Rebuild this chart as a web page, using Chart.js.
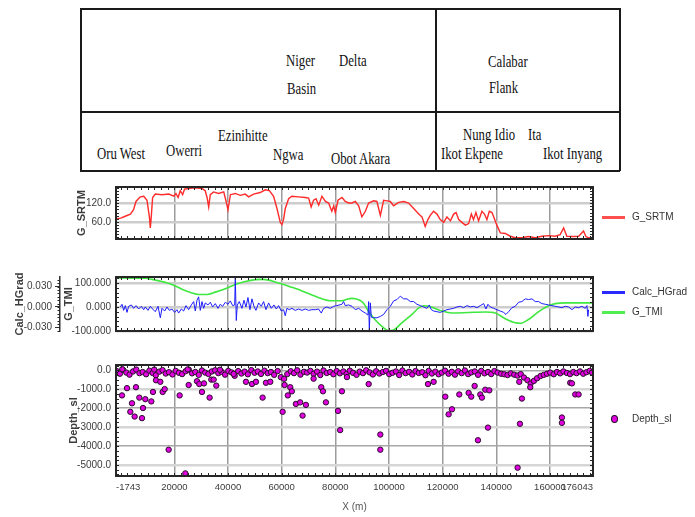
<!DOCTYPE html>
<html>
<head>
<meta charset="utf-8">
<script src="https://cdn.jsdelivr.net/npm/chart.js@4.4.1/dist/chart.umd.min.js"></script>
<style>
  body { margin: 0; background: #fff; width: 695px; height: 517px; position: relative; overflow: hidden; font-family: "Liberation Sans", Arial, sans-serif; }
  canvas { position: absolute; left: 0; }
  .ln { position: absolute; background: #1a1a1a; }
  .place { position: absolute; font: 17px "Liberation Serif", "Times New Roman", serif; line-height: 17px; transform: scaleX(0.75); transform-origin: 0 0; white-space: nowrap; color: #111; }
  .lg { position: absolute; left: 632px; font-size: 10px; line-height: 12px; color: #333; white-space: nowrap; }
  .sw { position: absolute; left: 602px; width: 23px; height: 3px; }
  .mk { position: absolute; left: 611px; width: 5px; height: 6px; border-radius: 50%; background: #e000e0; border: 1px solid #2a102a; }
</style>
</head>
<body>

<!-- location table -->
<div class="ln" style="left:80px; top:8px; width:540px; height:1.5px"></div>
<div class="ln" style="left:80px; top:111px; width:540px; height:1.5px"></div>
<div class="ln" style="left:80px; top:170px; width:540px; height:1.5px"></div>
<div class="ln" style="left:80px; top:8px; width:1.5px; height:163px"></div>
<div class="ln" style="left:619px; top:8px; width:1.5px; height:163px"></div>
<div class="ln" style="left:435px; top:8px; width:1.5px; height:163px"></div>

<div class="place" style="left:286px; top:52px">Niger</div>
<div class="place" style="left:339px; top:52px">Delta</div>
<div class="place" style="left:287px; top:80px">Basin</div>
<div class="place" style="left:488px; top:53px">Calabar</div>
<div class="place" style="left:489px; top:79px">Flank</div>
<div class="place" style="left:97px; top:145px">Oru West</div>
<div class="place" style="left:166px; top:142px">Owerri</div>
<div class="place" style="left:218px; top:127px">Ezinihitte</div>
<div class="place" style="left:273px; top:146px">Ngwa</div>
<div class="place" style="left:331px; top:150px">Obot Akara</div>
<div class="place" style="left:463px; top:126px">Nung Idio</div>
<div class="place" style="left:528px; top:126px">Ita</div>
<div class="place" style="left:441px; top:145px">Ikot Ekpene</div>
<div class="place" style="left:543px; top:145px">Ikot Inyang</div>

<canvas id="c1" width="695" height="74" style="top:176px"></canvas>
<canvas id="c2" width="695" height="76" style="top:266px"></canvas>
<canvas id="c3" width="695" height="163" style="top:354px"></canvas>

<div class="sw" style="top:216px; background:#ff5050"></div>
<div class="lg" style="top:211px">G_SRTM</div>
<div class="sw" style="top:291px; background:#2a2aff"></div>
<div class="lg" style="top:286px">Calc_HGrad</div>
<div class="sw" style="top:311px; background:#50ee50"></div>
<div class="lg" style="top:306px">G_TMI</div>
<div class="mk" style="top:415px"></div>
<div class="lg" style="top:413px">Depth_sl</div>

<script>
// x axis (distance along profile, m)
const xMin = -1743;
const xMax = 176043;
const xTicks = [-1743, 20000, 40000, 60000, 80000, 100000, 120000, 140000, 160000, 176043];

const srtmTicks = [60, 120];
const tmiTicks = [-100, 0, 100];
const hgradTicks = [-0.03, 0, 0.03];
const depthTicks = [0, -1000, -2000, -3000, -4000, -5000];

// G_SRTM
const srtmX = [-1700, 0, 1700, 3600, 4800, 5700, 7300, 8600, 9800, 10700,
  11050, 11400, 11900, 12900, 15400, 17900, 19800, 20600, 21400, 22200,
  23100, 23800, 25300, 27800, 30300, 31500, 32200, 32800, 33400, 34650,
  36500, 38400, 39200, 40000, 40900, 42700, 44600, 46400, 47700, 49550,
  52000, 53900, 55400, 57000, 58250, 59500, 60100, 60700, 61350, 62600,
  63800, 66300, 68800, 70050, 71000, 71900, 72800, 73800, 75000, 76300,
  77500, 78700, 79400, 80000, 81000, 82500, 83700, 85000, 86200, 87450,
  88700, 89900, 91200, 92400, 94300, 95500, 96800, 98000, 99300, 100500,
  101700, 103600, 105500, 107300, 109200, 111100, 112300, 113500, 114500, 115400,
  116600, 117900, 119100, 120400, 121600, 122900, 124100, 125000, 126000, 127200,
  128450, 129700, 130700, 131500, 132400, 133400, 134650, 135600, 136500, 137400,
  138400, 139400, 140200, 141500, 143350, 145200, 147100, 149600, 152000, 154500,
  157000, 159500, 162000, 163800, 165100, 166300, 168200, 170700, 172500, 173400,
  174400, 175900];
const srtmVal = [70, 72, 78, 85, 99, 126, 141, 143, 130, 76,
  40, 76, 139, 150, 148, 150, 143, 152, 139, 161,
  148, 166, 168, 170, 168, 161, 139, 108, 148, 157,
  152, 157, 130, 99, 148, 152, 146, 150, 141, 150,
  155, 164, 161, 143, 103, 58, 51, 67, 103, 135,
  143, 141, 139, 137, 108, 130, 135, 114, 143, 126,
  121, 94, 112, 90, 130, 139, 126, 121, 121, 126,
  112, 76, 94, 121, 128, 126, 81, 130, 128, 126,
  112, 123, 126, 121, 103, 85, 76, 45, 67, 81,
  94, 85, 67, 58, 76, 63, 85, 90, 67, 58,
  49, 54, 85, 67, 90, 63, 94, 85, 67, 94,
  90, 67, 49, 24, 22, 13, 8, 8, 12, 8,
  13, 15, 13, 18, 40, 13, 12, 13, 30, 12,
  8, 9];

// Calc_HGrad
const hgradX = [-130, 492, 1113, 1734, 2355, 2976, 3970, 4839, 5708, 6702,
  7696, 8565, 9186, 10180, 11049, 11918, 12912, 13906, 14775, 15396,
  16390, 17259, 18128, 19122, 20116, 20985, 21606, 22600, 23469, 24338,
  25332, 26326, 27195, 27816, 28437, 29058, 29679, 30300, 30921, 31542,
  32536, 33405, 34274, 35268, 36262, 37131, 38000, 38994, 39988, 40857,
  41726, 42500, 42720, 43093, 43465, 44210, 45204, 45949, 46694, 47440,
  48185, 48930, 49675, 50420, 51414, 52408, 53277, 54146, 55140, 56134,
  57127, 57997, 58866, 59860, 60729, 61350, 61971, 62840, 63834, 65076,
  66318, 67560, 68802, 70044, 71286, 72528, 73770, 74764, 75633, 76875,
  78117, 79359, 80601, 82464, 83085, 83706, 84948, 86214, 87456, 88698,
  89940, 91182, 92176, 92424, 92672, 93045, 93418, 94287, 95529, 96771,
  98013, 99255, 100497, 101739, 102981, 104223, 105465, 106707, 107949, 109191,
  110433, 111675, 112917, 114159, 115028, 115774, 116643, 117885, 119127, 120369,
  121611, 122853, 124095, 125337, 126579, 127821, 129063, 130305, 131547, 132789,
  134031, 135273, 136142, 136888, 137757, 138999, 140241, 141483, 142725, 143594,
  144588, 145830, 147072, 148314, 149556, 150798, 152040, 153282, 154524, 155766,
  157008, 158250, 159492, 160734, 161976, 163218, 164460, 165702, 166944, 168186,
  169428, 170670, 171912, 173154, 173775, 174148, 174396];
const hgradVal = [0.000, 0.004, -0.005, 0.002, -0.008, 0.001, 0.003, -0.002, 0.002, -0.003,
  0.001, -0.004, 0.000, -0.005, 0.001, -0.003, -0.007, 0.001, -0.016, -0.002,
  -0.006, 0.000, -0.005, -0.003, -0.008, -0.004, -0.009, -0.003, -0.006, 0.002,
  -0.004, 0.003, 0.008, -0.006, 0.010, 0.015, -0.005, 0.008, -0.002, 0.006,
  0.003, 0.007, 0.000, 0.005, -0.002, 0.004, 0.001, 0.007, 0.004, 0.009,
  0.002, 0.003, 0.045, -0.020, 0.003, 0.008, -0.002, 0.010, 0.000, 0.014,
  -0.004, 0.012, 0.001, -0.005, 0.006, 0.001, 0.008, -0.004, 0.006, -0.002,
  0.003, -0.003, 0.002, -0.006, -0.004, -0.013, -0.002, -0.004, -0.002, -0.005,
  -0.003, -0.005, -0.003, -0.005, -0.004, -0.004, -0.003, -0.009, -0.002, 0.000,
  -0.002, 0.001, 0.002, 0.004, 0.008, 0.002, 0.003, 0.001, -0.004, -0.002,
  -0.006, -0.009, -0.012, 0.008, -0.035, 0.006, -0.015, -0.016, -0.016, -0.014,
  -0.011, -0.004, 0.001, 0.009, 0.011, 0.016, 0.012, 0.012, 0.008, 0.008,
  0.004, 0.002, 0.000, -0.002, 0.003, -0.004, -0.006, -0.007, -0.008, -0.006,
  -0.004, -0.003, -0.002, 0.000, 0.001, -0.001, 0.002, 0.000, 0.001, -0.001,
  0.002, 0.005, -0.003, 0.004, 0.000, -0.002, -0.004, -0.006, -0.008, -0.011,
  -0.007, -0.001, 0.001, 0.007, 0.008, 0.012, 0.011, 0.012, 0.008, 0.008,
  0.005, 0.004, 0.003, 0.002, 0.001, 0.000, -0.001, 0.001, 0.000, -0.004,
  0.000, -0.001, 0.001, -0.002, 0.002, -0.014, -0.004];

// G_TMI
const tmiX = [-1700, 4200, 9200, 11700, 15400, 19100, 22850, 26600, 29060, 32200,
  35300, 39000, 42700, 46450, 50200, 52700, 55140, 58250, 60100, 63800,
  67600, 71300, 75000, 78100, 82500, 84300, 86200, 88700, 90600, 92400,
  95000, 97500, 99900, 101700, 104800, 108600, 111000, 112900, 116000, 119750,
  123500, 129700, 135900, 139600, 143350, 147100, 148900, 152000, 155800, 159500,
  162000, 165700, 175900];
const tmiVal = [121, 120, 120, 115, 106, 94, 74, 58, 52, 52,
  62, 76, 94, 106, 114, 115, 112, 102, 96, 82,
  67, 50, 34, 26, 26, 32, 36, 30, 15, -19,
  -55, -82, -99, -96, -66, -31, -5, 5, -1, -17,
  -25, -23, -21, -25, -49, -66, -68, -52, -19, 5,
  14, 17, 17];

// Depth_sl, shallow solutions along the profile
const bandX = [-1500, -300, 900, 2100, 3300, 4600, 5800, 7000, 8200, 9500,
  10700, 11900, 13100, 14400, 15600, 16800, 18000, 19300, 20500, 21700,
  22900, 24200, 25400, 26600, 27800, 29100, 30300, 31500, 32700, 34000,
  35200, 36400, 37600, 38900, 40100, 41300, 42500, 43800, 45000, 46200,
  47400, 48700, 49900, 51100, 52300, 53600, 54800, 56000, 57200, 58500,
  59700, 60900, 62100, 63400, 64600, 65800, 67000, 68300, 69500, 70700,
  71900, 73200, 74400, 75600, 76800, 78100, 79300, 80500, 81700, 83000,
  84200, 85400, 86600, 87900, 89100, 90300, 91500, 92800, 94000, 95200,
  96400, 97700, 98900, 100100, 101300, 102600, 103800, 105000, 106200, 107500,
  108700, 109900, 111100, 112400, 113600, 114800, 116000, 117300, 118500, 119700,
  120900, 122200, 123400, 124600, 125800, 127100, 128300, 129500, 130700, 132000,
  133200, 134400, 135600, 136900, 138100, 139300, 140500, 141800, 143000, 144200,
  145400, 146700, 147900, 149100, 150300, 151600, 152800, 154000, 155200, 156500,
  157700, 158900, 160100, 161400, 162600, 163800, 165000, 166300, 167500, 168700,
  169900, 171200, 172400, 173600, 174800, 175700, 600, 12500, 25000, 37000];
const bandVal = [-40, -180, 20, -120, -230, -60, 40, -150, -90, -210,
  -20, -140, -260, -70, 10, -170, -100, -220, -30, -130,
  -200, -50, 30, -160, -90, -240, -10, -120, -190, -60,
  0, -150, -80, -230, -30, -110, -290, -40, -170, -70,
  -210, 10, -130, -60, -190, -20, -150, -90, -240, -40,
  -360, -450, -200, -50, -150, 0, -230, -80, -120, -30,
  -180, -70, -250, -10, -140, -90, -210, -40, -160, -60,
  -190, -20, -130, -240, -70, -150, 0, -110, -220, -50,
  -170, -90, -30, -200, -130, -60, -250, -10, -150, -80,
  -220, -40, -140, -100, -260, -30, -170, -70, -210, -120,
  -20, -180, -80, -230, -50, -150, -10, -200, -110, -60,
  -240, -30, -160, -90, -200, -40, -120, -180, -210, -250,
  -160, -230, -280, -200, -380, -520, -700, -560, -420, -300,
  -240, -180, -120, -210, -90, -160, -60, -140, -200, -90,
  -150, -60, -180, -100, -30, -120, 60, 40, 50, 30];

// Depth_sl, deeper solutions
const depthX = [492, 2355, 3597, 4218, 5212, 5708, 6950, 7944, 8317, 9186,
  11422, 12042, 13160, 14775, 15644, 16390, 17880, 21979, 24090, 25332,
  28437, 29306, 30300, 31045, 33157, 33778, 34647, 35640, 42099, 46694,
  48930, 50420, 52900, 54146, 55761, 60360, 61100, 62300, 63200, 63800,
  65300, 66900, 67800, 69050, 71900, 74760, 75400, 76500, 81000, 81800,
  82460, 84330, 92424, 96771, 96771, 114532, 116643, 120990, 122230, 123474,
  126206, 129684, 130660, 131920, 133160, 134030, 134650, 135900, 136890, 137400,
  147940, 148560, 148810, 149560, 152660, 164460, 164460, 167560, 168190, 169430,
  170670];
const depthVal = [-1325, -942, -2192, -1742, -2442, -892, -1442, -2525, -1992, -1525,
  -1642, -1142, -525, -608, -1142, -992, -4192, -1325, -5442, -775,
  -575, -725, -1142, -692, -1442, -492, -492, -808, -192, -608,
  -725, -608, -1442, -658, -608, -2192, -775, -1325, -892, -1108,
  -1775, -1692, -2392, -1825, -442, -892, -1108, -1692, -2142, -3158,
  -1108, -358, -725, -3392, -4192, -725, -608, -1392, -2325, -2059,
  -1275, -1192, -1392, -825, -3692, -1275, -1442, -1025, -3025, -1058,
  -5142, -608, -2825, -1492, -892, -2492, -2775, -658, -692, -1275,
  -1275];

Chart.defaults.font.family = '"Liberation Sans", Arial, sans-serif';
Chart.defaults.font.size = 10;
Chart.defaults.color = '#3c3c3c';

const pts = (xs, ys) => xs.map((x, i) => ({ x: x, y: ys[i] }));

// frame round the plot, with little inward ticks
const frame = {
  id: 'frame',
  afterDatasetsDraw(chart, args, o) {
    const { ctx, chartArea: a, scales } = chart;
    const xs = scales.x;
    ctx.save();
    ctx.strokeStyle = '#262626';
    ctx.lineWidth = 1;
    ctx.beginPath();
    for (let v = Math.ceil(xs.min / o.xStep) * o.xStep; v <= xs.max; v += o.xStep) {
      const p = Math.round(xs.getPixelForValue(v)) + 0.5;
      ctx.moveTo(p, a.top); ctx.lineTo(p, a.top + 3);
      ctx.moveTo(p, a.bottom); ctx.lineTo(p, a.bottom - 3);
    }
    const ys = scales[o.yId];
    for (let v = Math.ceil(ys.min / o.yStep) * o.yStep; v <= ys.max; v += o.yStep) {
      const p = Math.round(ys.getPixelForValue(v)) + 0.5;
      ctx.moveTo(a.left, p); ctx.lineTo(a.left + 3, p);
      ctx.moveTo(a.right, p); ctx.lineTo(a.right - 3, p);
    }
    if (o.axisId) {
      const s = scales[o.axisId];
      for (let v = Math.ceil(s.min / o.axisStep) * o.axisStep; v <= s.max; v += o.axisStep) {
        const p = Math.round(s.getPixelForValue(v)) + 0.5;
        ctx.moveTo(s.right - 2.5, p); ctx.lineTo(s.right, p);
      }
    }
    ctx.stroke();
    ctx.lineWidth = 2;
    ctx.strokeRect(a.left, a.top, a.right - a.left, a.bottom - a.top);
    ctx.restore();
  }
};

function xScale(showLabels, height) {
  return {
    type: 'linear',
    min: xMin,
    max: xMax,
    afterBuildTicks: s => { s.ticks = xTicks.map(v => ({ value: v })); },
    afterFit: s => { s.height = height; },
    ticks: { display: showLabels, autoSkip: false, maxRotation: 0, align: 'inner', padding: 6, color: '#3c3c3c', font: { size: 9.5 }, callback: v => String(v) },
    grid: {
      drawTicks: false,
      lineWidth: 1.5,
      color: c => (c.tick && (c.tick.value === xMin || c.tick.value === xMax)) ? 'rgba(0,0,0,0)' : '#9c9c9c'
    },
    border: { display: false },
    title: { display: showLabels, text: 'X (m)', color: '#555', font: { size: 10 }, padding: { top: 0, bottom: 4 } }
  };
}

const axisTitle = (text, pad) => ({
  display: true, text: text, color: '#3c3c3c',
  font: { size: 11, weight: 'bold' },
  padding: { top: pad, bottom: 0 }
});

// G_SRTM panel
new Chart(document.getElementById('c1'), {
  type: 'line',
  data: {
    datasets: [{ label: 'G_SRTM', data: pts(srtmX, srtmVal), borderColor: '#ff2a2a', borderWidth: 1.4, pointRadius: 0 }]
  },
  options: {
    responsive: false,
    animation: false,
    layout: { padding: { top: 5, right: 102, left: 0, bottom: 0 } },
    plugins: { legend: { display: false }, tooltip: { enabled: false }, frame: { xStep: 2500, yId: 'y', yStep: 10 } },
    scales: {
      x: xScale(false, 4),
      y: {
        min: 4, max: 173,
        afterBuildTicks: s => { s.ticks = srtmTicks.map(v => ({ value: v })); },
        afterFit: s => { s.width = 116; },
        ticks: { padding: 5, callback: v => v.toFixed(1) },
        grid: { drawTicks: false, color: '#cdcdcd', lineWidth: 2.5 },
        border: { display: false },
        title: axisTitle('G_SRTM', 75)
      }
    }
  },
  plugins: [frame]
});

// Calc_HGrad / G_TMI panel
new Chart(document.getElementById('c2'), {
  type: 'line',
  data: {
    datasets: [
      { label: 'Calc_HGrad', data: pts(hgradX, hgradVal), yAxisID: 'hgrad', borderColor: '#1c1cff', borderWidth: 1, pointRadius: 0 },
      { label: 'G_TMI', data: pts(tmiX, tmiVal), yAxisID: 'tmi', borderColor: '#3fe83f', borderWidth: 1.6, pointRadius: 0, cubicInterpolationMode: 'monotone' }
    ]
  },
  options: {
    responsive: false,
    animation: false,
    layout: { padding: { top: 5, right: 102, left: 0, bottom: 0 } },
    plugins: { legend: { display: false }, tooltip: { enabled: false }, frame: { xStep: 2500, yId: 'tmi', yStep: 20, axisId: 'hgrad', axisStep: 0.005 } },
    scales: {
      x: xScale(false, 8),
      tmi: {
        position: 'left', weight: 0,
        min: -100, max: 125,
        afterBuildTicks: s => { s.ticks = tmiTicks.map(v => ({ value: v })); },
        afterFit: s => { s.width = 56; },
        ticks: { padding: 5, callback: v => v.toFixed(3) },
        grid: { drawTicks: false, color: '#cdcdcd', lineWidth: 2.5 },
        border: { display: false },
        title: axisTitle('G_TMI', 2)
      },
      hgrad: {
        position: 'left', weight: 1,
        min: -0.0355, max: 0.0443,
        afterBuildTicks: s => { s.ticks = hgradTicks.map(v => ({ value: v })); },
        afterFit: s => { s.width = 60; },
        ticks: { padding: 3, callback: v => v.toFixed(3) },
        grid: { drawOnChartArea: false, drawTicks: true, tickLength: 5, color: '#333' },
        border: { display: true, color: '#333', width: 1.5 },
        title: axisTitle('Calc_HGrad', 13)
      }
    }
  },
  plugins: [frame]
});

// Depth_sl panel
new Chart(document.getElementById('c3'), {
  type: 'scatter',
  data: {
    datasets: [{
      label: 'Depth_sl',
      data: pts(bandX, bandVal).concat(pts(depthX, depthVal)),
      pointStyle: 'circle', pointRadius: 2.7,
      backgroundColor: '#e000e0', borderColor: '#2a102a', borderWidth: 1
    }]
  },
  options: {
    responsive: false,
    animation: false,
    layout: { padding: { top: 5, right: 102, left: 0, bottom: 0 } },
    plugins: { legend: { display: false }, tooltip: { enabled: false }, frame: { xStep: 2500, yId: 'y', yStep: 250 } },
    scales: {
      x: xScale(true, 41),
      y: {
        min: -5580, max: 280,
        afterBuildTicks: s => { s.ticks = depthTicks.map(v => ({ value: v })); },
        afterFit: s => { s.width = 116; },
        ticks: { padding: 5, callback: v => v.toFixed(1) },
        grid: {
          drawTicks: false,
          color: c => (c.tick && c.tick.value % 2000 !== 0) ? '#d6d6d6' : '#a8a8a8',
          lineWidth: c => (c.tick && c.tick.value % 2000 !== 0) ? 2.5 : 1.5
        },
        border: { display: false },
        title: axisTitle('Depth_sl', 67)
      }
    }
  },
  plugins: [frame]
});
</script>
</body>
</html>
